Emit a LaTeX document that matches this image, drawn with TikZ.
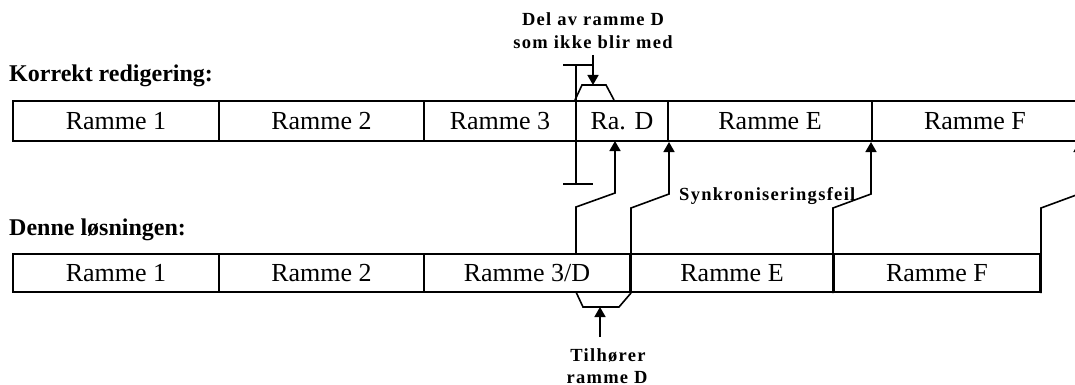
\documentclass[tikz,border=0pt]{standalone}
\usepackage{fontspec}
\setmainfont{Liberation Serif}
\usetikzlibrary{arrows.meta}
\newcommand\spacedlbl{\bfseries\addfontfeature{LetterSpace=7}}
\begin{document}
\begin{tikzpicture}[x=1pt,y=-1pt,
  frame/.style={draw, line width=2pt, rectangle, inner sep=0pt, minimum height=40pt,
    font=\fontsize{26}{30}\selectfont},
  frameb/.style={frame, minimum height=38pt},
  conn/.style={line width=1.6pt},
  tipped/.style={conn, -{Triangle[width=11pt,length=10pt]}},
  head/.style={font=\fontsize{24}{28}\selectfont\bfseries, inner sep=0pt, anchor=base west},
  note/.style={font=\fontsize{18.5}{22}\selectfont\spacedlbl, inner sep=0pt, anchor=base}]
\useasboundingbox (0,0) rectangle (1075,385);
\clip (0,0) rectangle (1075,385);
\fill[white] (0,0) rectangle (1075,385);

% headings
\node[head] (h1) at (9,82) {Korrekt redigering:};
\node[head] (h2) at (9,235) {Denne løsningen:};

% top row
\node[frame, minimum width=206pt] (t1) at (116,121) {Ramme 1};
\node[frame, minimum width=205pt] (t2) at (321.5,121) {Ramme 2};
\node[frame, minimum width=152pt] (t3) at (500,121) {Ramme 3};
\node[frame, minimum width=92pt]  (t4) at (622,121) {Ra. D};
\node[frame, minimum width=204pt] (t5) at (770,121) {Ramme E};
\node[frame, minimum width=206pt] (t6) at (975,121) {Ramme F};

% bottom row
\node[frameb, minimum width=206pt] (b1) at (116,273) {Ramme 1};
\node[frameb, minimum width=205pt] (b2) at (321.5,273) {Ramme 2};
\node[frameb, minimum width=206pt] (b3) at (527,273) {Ramme 3/D};
\node[frameb, minimum width=204pt] (b4) at (732,273) {Ramme E};
\node[frameb, minimum width=206pt] (b5) at (937,273) {Ramme F};

% labels
\node[note] (d1) at (593,26) {Del av ramme D};
\node[note] (d2) at (593,49) {som ikke blir med};
\node[note, anchor=base west] (sf) at (679,200) {Synkroniseringsfeil};
\node[note] (th1) at (608,361) {Tilhører};
\node[note] (th2) at (607,383) {ramme D};

% I-beam marking cut of frame D
\coordinate (ibt) at (576,65);
\coordinate (ibb) at (576,184);
\draw[conn] (ibt) -- (ibb);
\draw[conn] (ibt) ++(-13,0) -- ++(30,0);
\draw[conn] (ibb) ++(-13,0) -- ++(30,0);

% bracket over Ra. D with pointer
\draw[conn] (t4.north west) -- ++(7,-15) coordinate (tz1) -- ++(24,0) coordinate (tz2) -- ++(8,15);
\coordinate (pa) at (593,55);
\draw[tipped] (pa) -- (pa |- tz1);

% bracket under Ramme 3/D with pointer
\coordinate (bz0) at (576,292);
\draw[conn] (bz0) -- ++(7,15) coordinate (bz1) -- ++(36,0) -- (b3.south east);
\coordinate (pb) at (600,337);
\draw[tipped] (pb) -- (pb |- bz1);

% connectors
\coordinate (k1) at (576,254);
\coordinate (k1e) at (615,141);
\draw[tipped] (k1) -- ++(0,-47) -- ++(39,-14) -- (k1e);
\draw[tipped] (b3.south east) -- ++(0,-85) -- ++(38,-14) -- (t4.south east);
\draw[tipped] (b5.south west) -- ++(0,-85) -- ++(38,-14) -- (t6.south west);
\draw[tipped] (b5.south east) -- ++(0,-85) -- ++(38,-14) -- (t6.south east);
\end{tikzpicture}
\end{document}
